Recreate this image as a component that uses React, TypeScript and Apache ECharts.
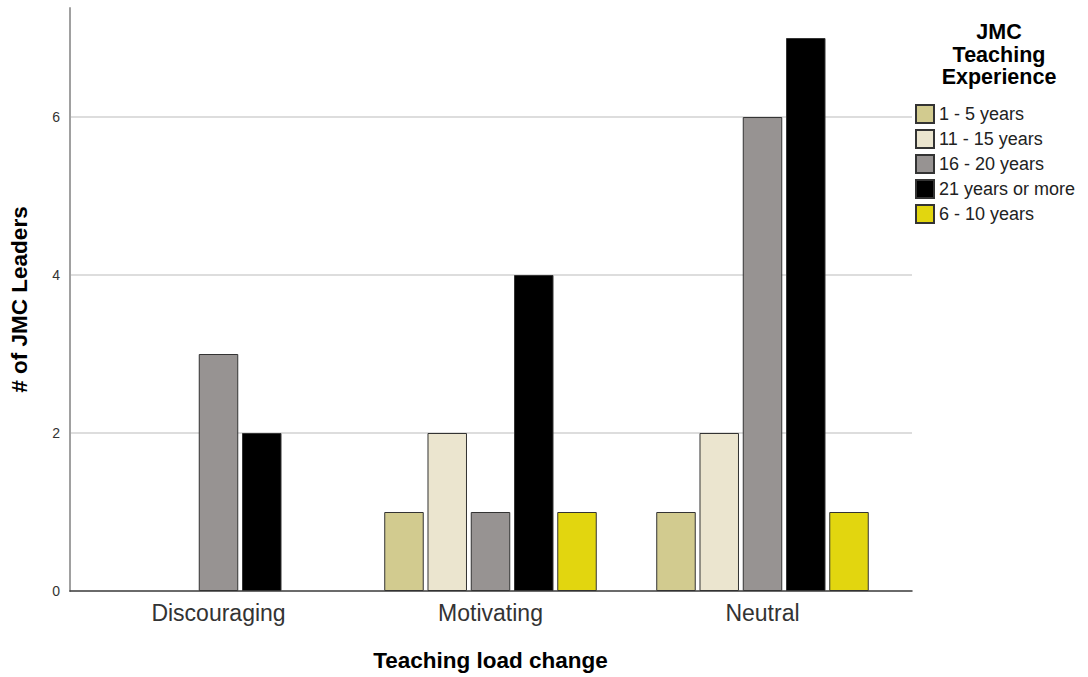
import React, { useEffect, useRef } from "react";
import * as echarts from "echarts";

const categories = ["Discouraging", "Motivating", "Neutral"];
const seriesNames = ["1 - 5 years", "11 - 15 years", "16 - 20 years", "21 years or more", "6 - 10 years"];
const seriesColors = ["#d2cb8f", "#ebe5cf", "#979392", "#000000", "#e2d60f"];
const values1to5 = [null, 1, 1];
const values11to15 = [null, 2, 2];
const values16to20 = [3, 1, 6];
const values21plus = [2, 4, 7];
const values6to10 = [null, 1, 1];
const seriesValues = [values1to5, values11to15, values16to20, values21plus, values6to10];
const yTicks = [0, 2, 4, 6];
const yMax = 7.38;

const FONT = "'Liberation Sans', Arial, sans-serif";

export default function App() {
  const ref = useRef<HTMLDivElement>(null);
  useEffect(() => {
    document.body.style.margin = "0";
    const chart = echarts.init(ref.current!, null, { renderer: "svg" });
    const option: any = {
      animation: false,
      backgroundColor: "#ffffff",
      textStyle: { fontFamily: FONT },
      grid: [
        { left: 69, right: 176, top: 8, bottom: 86 },
        { left: 82.5, right: 189.5, top: 8, bottom: 86 },
      ],
      xAxis: [
        {
          type: "value",
          gridIndex: 0,
          min: 0,
          max: 1,
          axisLine: { show: true, onZero: false, lineStyle: { color: "#3a3a3a", width: 1.5 } },
          axisTick: { show: false },
          axisLabel: { show: false },
          splitLine: { show: false },
        },
        {
          type: "category",
          gridIndex: 1,
          data: categories,
          axisLine: { show: false },
          axisTick: { show: false },
          axisLabel: { fontSize: 23, color: "#333", margin: 10, fontFamily: FONT },
          name: "Teaching load change",
          nameLocation: "middle",
          nameGap: 58,
          nameTextStyle: { fontSize: 22.5, fontWeight: "bold", color: "#000", fontFamily: FONT },
        },
      ],
      yAxis: [
        {
          type: "value",
          gridIndex: 0,
          min: 0,
          max: yMax,
          interval: 2,
          axisLine: { show: true, lineStyle: { color: "#a0a0a0", width: 2 } },
          axisTick: { show: false },
          axisLabel: {
            fontSize: 14,
            color: "#333",
            margin: 10,
            fontFamily: FONT,
            showMaxLabel: false,
            formatter: (v: number) => (yTicks.includes(v) ? String(v) : ""),
          },
          splitLine: { show: true, showMinLine: false, showMaxLine: false, lineStyle: { color: "#d2d2d2", width: 1.5 } },
          name: "# of JMC Leaders",
          nameLocation: "middle",
          nameGap: 39,
          nameRotate: 90,
          nameTextStyle: { fontSize: 22.5, fontWeight: "bold", color: "#000", fontFamily: FONT },
        },
        {
          type: "value",
          gridIndex: 1,
          min: 0,
          max: yMax,
          interval: 2,
          show: false,
          splitLine: { show: false },
        },
      ],
      legend: {
        orient: "vertical",
        left: 915,
        top: 104,
        padding: 0,
        itemWidth: 18,
        itemHeight: 18,
        itemGap: 5,
        icon: "rect",
        textStyle: { fontSize: 18, color: "#222", fontFamily: FONT },
        data: seriesNames,
      },
      graphic: [
        {
          type: "text",
          x: 999,
          y: 21,
          style: {
            text: "JMC\nTeaching\nExperience",
            textAlign: "center",
            align: "center",
            verticalAlign: "top",
            textVerticalAlign: "top",
            font: "bold 21.5px " + FONT,
            lineHeight: 22.5,
            fill: "#000",
          },
        },
      ],
      series: seriesNames.map((name, i) => ({
        type: "bar",
        name,
        xAxisIndex: 1,
        yAxisIndex: 1,
        data: seriesValues[i],
        barWidth: 39.5,
        barGap: "9.5%",
        itemStyle: { color: seriesColors[i], borderColor: "#333", borderWidth: 1 },
      })),
    };
    chart.setOption(option);
    return () => chart.dispose();
  }, []);
  return <div ref={ref} style={{ width: 1088, height: 677 }} />;
}
